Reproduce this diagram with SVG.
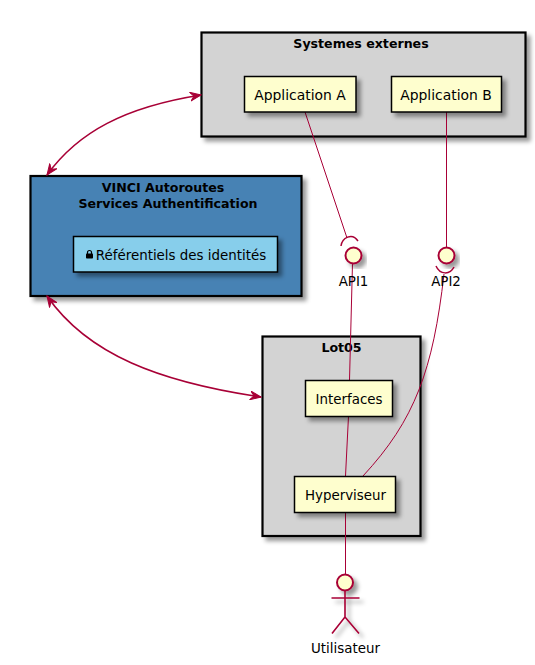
<svg xmlns="http://www.w3.org/2000/svg" width="535" height="665" viewBox="0 0 535 665">
<style>
text{font-family:"DejaVu Sans","Liberation Sans",sans-serif;fill:#000}
.t{font-size:13.400px;text-anchor:middle}
.b{font-size:12.600px;font-weight:bold;text-anchor:middle}
.c{stroke:#000;stroke-width:2.200}
.g{fill:#D3D3D3}
.n{fill:#FEFECE;stroke:#000;stroke-width:1.500}
.l{fill:none;stroke:#A80036;stroke-width:1}
.k{fill:none;stroke:#A80036;stroke-width:1.500}
.h{fill:none;stroke:#A80036;stroke-width:1.600}
.a{fill:#A80036;stroke:#A80036}
.i{fill:#FEFECE;stroke:#A80036;stroke-width:2}
</style>
<defs>
<filter id="s" x="-20%" y="-20%" width="150%" height="150%"><feDropShadow dx="4" dy="4" stdDeviation="2" flood-color="#000" flood-opacity="0.4"/></filter>
<marker id="m" viewBox="0 0 12 10" refX="11" refY="5" markerWidth="12" markerHeight="10" markerUnits="userSpaceOnUse" orient="auto-start-reverse"><path class="a" d="M0,0.500L11,5L0,9.500L4,5Z"/></marker>
</defs>
<g id="systemes-externes">
<rect class="g c" x="201.500" y="32.500" width="324" height="104" filter="url(#s)"/>
<text class="b" x="361" y="48">Systemes externes</text>
</g>
<g id="vinci">
<rect class="c" fill="#4682B4" x="30.500" y="176" width="271" height="120" filter="url(#s)"/>
<text class="b" x="163" y="192">VINCI Autoroutes</text>
<text class="b" x="168" y="208">Services Authentification</text>
</g>
<g id="lot05">
<rect class="g c" x="262.500" y="336.500" width="158" height="199.500" filter="url(#s)"/>
<text class="b" x="341.500" y="352">Lot05</text>
</g>
<g id="connectors">
<path class="h" marker-start="url(#m)" marker-end="url(#m)" d="M47,175C78,132 125,107 201,95"/>
<path class="h" marker-start="url(#m)" marker-end="url(#m)" d="M47,296C88,355 160,382 261,397"/>
<path class="l" d="M305,112L347,238"/>
<path class="l" d="M446.500,112V247"/>
<path class="l" d="M352.500,263L349.500,380"/>
<path class="l" d="M348.500,416L345.500,476"/>
<path class="l" d="M444,274C433,370 415,420 363,476"/>
<path class="l" d="M345.500,512V574"/>
</g>
<g id="application-a">
<rect class="n" x="244.500" y="76.500" width="111.500" height="35.500" filter="url(#s)"/>
<text class="t" style="font-size:13.900px" x="300" y="100">Application A</text>
</g>
<g id="application-b">
<rect class="n" x="391.500" y="76.500" width="110" height="35.500" filter="url(#s)"/>
<text class="t" style="font-size:13.900px" x="446" y="100">Application B</text>
</g>
<g id="referentiels">
<rect x="73.500" y="236.500" width="204" height="35.500" fill="#87CEEB" stroke="#000" stroke-width="1.500" filter="url(#s)"/>
<path d="M87.500,254V252.500a2,2 0 0 1 4,0V254" fill="none" stroke="#000" stroke-width="1.200"/>
<rect x="86" y="253.500" width="7" height="5" rx="0.800" fill="#000"/>
<text class="t" x="181" y="260">Référentiels des identités</text>
</g>
<g id="interfaces">
<rect class="n" x="305.500" y="380.500" width="87" height="36" filter="url(#s)"/>
<text class="t" x="349" y="404">Interfaces</text>
</g>
<g id="hyperviseur">
<rect class="n" x="294.500" y="476.500" width="101" height="36" filter="url(#s)"/>
<text class="t" x="345.500" y="500">Hyperviseur</text>
</g>
<g id="api1">
<circle class="i" cx="353.500" cy="255.500" r="8" filter="url(#s)"/>
<path class="k" d="M341,246C342,238 352,232 358,241"/>
<text class="t" x="353.500" y="286">API1</text>
</g>
<g id="api2">
<circle class="i" cx="446.500" cy="255.500" r="8" filter="url(#s)"/>
<path class="k" d="M436,266C440,275 450,275 454,267"/>
<text class="t" x="446" y="286">API2</text>
</g>
<g id="utilisateur">
<g filter="url(#s)">
<circle class="i" cx="345" cy="582.500" r="8"/>
<path class="h" d="M345,590.500V617M331.500,598H359.500M332,633.500L345,617L359,633.500"/>
</g>
<text class="t" x="345.500" y="653">Utilisateur</text>
</g>
</svg>
